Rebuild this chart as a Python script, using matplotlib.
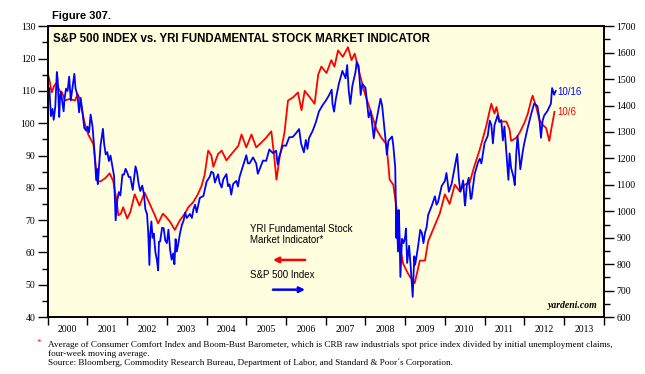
import numpy as np
import matplotlib
matplotlib.use("Agg")
import matplotlib.pyplot as plt

# YRI Fundamental Stock Market Indicator (left axis)
yri_t = [2000.00, 2000.04, 2000.10, 2000.16, 2000.22, 2000.30, 2000.36, 2000.43, 2000.55, 2000.69,
         2000.75, 2000.81, 2000.88, 2000.93, 2001.02, 2001.15, 2001.20, 2001.25, 2001.33, 2001.45,
         2001.56, 2001.65, 2001.72, 2001.78, 2001.84, 2001.90, 2002.00, 2002.08, 2002.19, 2002.31,
         2002.44, 2002.57, 2002.68, 2002.78, 2002.90, 2002.98, 2003.08, 2003.20, 2003.33, 2003.45,
         2003.54, 2003.66, 2003.78, 2003.87, 2003.95, 2004.04, 2004.12, 2004.17, 2004.29, 2004.38,
         2004.50, 2004.63, 2004.80, 2004.88, 2005.00, 2005.13, 2005.25, 2005.38, 2005.50, 2005.63,
         2005.70, 2005.76, 2005.84, 2005.96, 2006.05, 2006.18, 2006.30, 2006.39, 2006.47, 2006.60,
         2006.72, 2006.81, 2006.89, 2007.02, 2007.14, 2007.22, 2007.31, 2007.43, 2007.56, 2007.65,
         2007.73, 2007.85, 2007.99, 2008.11, 2008.20, 2008.28, 2008.40, 2008.53, 2008.61, 2008.70,
         2008.78, 2008.87, 2008.95, 2009.05, 2009.12, 2009.24, 2009.37, 2009.50, 2009.58, 2009.70,
         2009.87, 2010.00, 2010.12, 2010.25, 2010.37, 2010.50, 2010.62, 2010.75, 2010.87, 2010.95,
         2011.04, 2011.13, 2011.17, 2011.25, 2011.30, 2011.38, 2011.55, 2011.63, 2011.67, 2011.80,
         2011.88, 2012.00, 2012.09, 2012.17, 2012.21, 2012.30, 2012.38, 2012.46, 2012.55, 2012.63,
         2012.67, 2012.76]
yri_v = [115.5, 113.5, 109.5, 111.5, 112.5, 110.0, 109.5, 107.0, 107.5, 107.0,
         109.0, 107.5, 103.0, 100.0, 96.5, 93.5, 88.0, 82.0, 82.0, 83.0,
         84.5, 82.0, 77.0, 71.5, 72.0, 74.0, 70.5, 72.5, 78.0, 74.5,
         78.5, 75.0, 72.0, 69.0, 72.0, 71.0, 69.5, 67.0, 70.0, 72.0,
         74.0, 75.5, 78.0, 80.5, 84.0, 91.5, 90.0, 86.5, 90.5, 91.5,
         88.5, 90.5, 93.0, 96.5, 92.5, 96.5, 92.5, 94.0, 95.5, 97.5,
         90.0, 82.5, 89.5, 97.0, 107.0, 108.0, 109.5, 104.0, 110.0, 108.0,
         106.0, 115.0, 117.5, 115.5, 119.5, 117.5, 122.5, 120.5, 123.5, 119.5,
         121.5, 115.5, 109.0, 104.5, 101.0, 98.0, 95.5, 93.5, 82.5, 81.0,
         74.0, 62.0, 56.5, 54.0, 52.5, 50.5, 57.5, 57.5, 63.5, 67.0,
         72.0, 78.0, 75.0, 81.0, 79.0, 81.0, 81.5, 87.0, 91.5, 95.0,
         99.0, 104.0, 106.0, 103.0, 105.0, 100.5, 100.5, 98.0, 94.5, 95.5,
         97.0, 100.0, 103.0, 107.0, 108.5, 105.0, 101.0, 99.5, 98.5, 94.5,
         97.5, 103.5]

# S&P 500 index (right axis)
spx_t = [2000.00, 2000.04, 2000.08, 2000.12, 2000.15, 2000.19, 2000.23, 2000.25, 2000.29, 2000.31,
         2000.33, 2000.40, 2000.42, 2000.46, 2000.50, 2000.54, 2000.58, 2000.67, 2000.70, 2000.75,
         2000.79, 2000.83, 2000.88, 2000.92, 2000.97, 2001.00,
         2001.04, 2001.08, 2001.13, 2001.17, 2001.22, 2001.25, 2001.26, 2001.33, 2001.39, 2001.42,
         2001.46, 2001.50, 2001.54, 2001.58, 2001.67, 2001.71, 2001.75, 2001.79, 2001.83, 2001.88,
         2001.92, 2001.96, 2002.00,
         2002.04, 2002.08, 2002.14, 2002.21, 2002.25, 2002.29, 2002.33, 2002.38, 2002.42, 2002.46,
         2002.50, 2002.53, 2002.56, 2002.58, 2002.61, 2002.64, 2002.67, 2002.71, 2002.75, 2002.78,
         2002.80, 2002.83, 2002.88, 2002.92, 2002.96, 2003.00,
         2003.04, 2003.08, 2003.12, 2003.16, 2003.19, 2003.22, 2003.25, 2003.29, 2003.33, 2003.38,
         2003.42, 2003.46, 2003.50, 2003.58, 2003.63, 2003.67, 2003.71, 2003.75, 2003.83, 2003.92,
         2004.00,
         2004.08, 2004.12, 2004.17, 2004.21, 2004.25, 2004.29, 2004.33, 2004.38, 2004.42, 2004.50,
         2004.54, 2004.58, 2004.62, 2004.67, 2004.75, 2004.79, 2004.83, 2004.92, 2005.00,
         2005.04, 2005.08, 2005.17, 2005.25, 2005.29, 2005.33, 2005.42, 2005.50, 2005.58, 2005.67,
         2005.75, 2005.79, 2005.83, 2005.92, 2006.00,
         2006.08, 2006.17, 2006.25, 2006.33, 2006.38, 2006.45, 2006.50, 2006.54, 2006.58, 2006.67,
         2006.75, 2006.83, 2006.92, 2007.00,
         2007.08, 2007.15, 2007.17, 2007.21, 2007.25, 2007.33, 2007.42, 2007.50, 2007.54, 2007.58,
         2007.62, 2007.67, 2007.75, 2007.78, 2007.83, 2007.88, 2007.92, 2008.00,
         2008.04, 2008.08, 2008.13, 2008.17, 2008.21, 2008.25, 2008.33, 2008.38, 2008.42, 2008.50,
         2008.54, 2008.58, 2008.67, 2008.70, 2008.75, 2008.78, 2008.79, 2008.82, 2008.84, 2008.86,
         2008.88, 2008.92, 2008.96, 2009.00,
         2009.02, 2009.05, 2009.10, 2009.14, 2009.19, 2009.23, 2009.25, 2009.29, 2009.33, 2009.38,
         2009.42, 2009.46, 2009.50, 2009.54, 2009.58, 2009.67, 2009.75, 2009.79, 2009.83, 2009.92,
         2010.00,
         2010.04, 2010.10, 2010.17, 2010.25, 2010.31, 2010.35, 2010.39, 2010.42, 2010.46, 2010.50,
         2010.51, 2010.55, 2010.60, 2010.65, 2010.67, 2010.75, 2010.83, 2010.88, 2010.92, 2011.00,
         2011.08, 2011.13, 2011.17, 2011.21, 2011.25, 2011.33, 2011.37, 2011.42, 2011.46, 2011.50,
         2011.56, 2011.60, 2011.63, 2011.67, 2011.73, 2011.76, 2011.80, 2011.83, 2011.87, 2011.90,
         2011.96, 2012.00,
         2012.08, 2012.17, 2012.25, 2012.33, 2012.38, 2012.42, 2012.46, 2012.50, 2012.58, 2012.67,
         2012.70, 2012.75, 2012.79]
spx_v = [1469, 1465, 1360, 1387, 1346, 1395, 1527, 1499, 1357, 1434,
         1452, 1378, 1421, 1464, 1455, 1509, 1419, 1520, 1465, 1437,
         1374, 1429, 1368, 1315, 1305, 1320,
         1298, 1366, 1318, 1240, 1118, 1160, 1103, 1249, 1312, 1256,
         1215, 1224, 1190, 1211, 1134, 966, 1041, 1073, 1060, 1139,
         1139, 1161, 1148,
         1130, 1130, 1081, 1170, 1147, 1103, 1077, 1097, 1067, 1007,
         990, 920, 797, 912, 962, 900, 916, 847, 815, 777,
         885, 886, 938, 936, 890, 880,
         931, 856, 817, 841, 800, 895, 848, 880, 917, 950,
         964, 995, 975, 990, 975, 1008, 1025, 996, 1051, 1058,
         1112,
         1131, 1150, 1145, 1109, 1126, 1140, 1107, 1090, 1121, 1141,
         1095, 1102, 1063, 1104, 1115, 1094, 1130, 1174, 1212,
         1182, 1181, 1204, 1181, 1142, 1157, 1192, 1191, 1234, 1220,
         1229, 1177, 1207, 1249, 1248,
         1280, 1281, 1295, 1311, 1256, 1223, 1270, 1236, 1277, 1304,
         1336, 1378, 1401, 1418,
         1438, 1460, 1407, 1377, 1421, 1482, 1531, 1503, 1553, 1455,
         1406, 1474, 1527, 1565, 1549, 1440, 1481, 1468,
         1411, 1355, 1380, 1331, 1276, 1323, 1386, 1426, 1400, 1280,
         1214, 1267, 1283, 1251, 1166, 899, 1003, 848, 1005, 905,
         752, 896, 880, 903,
         935, 805, 870, 790, 677, 830, 798, 832, 873, 930,
         919, 880, 919, 940, 987, 1021, 1057, 1025, 1036, 1096,
         1115,
         1145, 1074, 1104, 1169, 1217, 1128, 1074, 1089, 1117, 1031,
         1022, 1095, 1127, 1047, 1049, 1141, 1183, 1199, 1181, 1258,
         1286, 1343, 1327, 1257, 1326, 1364, 1338, 1345, 1268, 1321,
         1199, 1119, 1219, 1163, 1129, 1099, 1224, 1285, 1216, 1159,
         1225, 1258,
         1312, 1366, 1408, 1398, 1350, 1278, 1342, 1362, 1379, 1407,
         1466, 1441, 1455]

years = list(range(2000, 2014))

fig = plt.figure(figsize=(6.45, 3.74), dpi=100)
ax = fig.add_axes([0.074, 0.152, 0.862, 0.778])
ax.set_facecolor('#FFFFE0')
ax2 = ax.twinx()

ax.plot(yri_t, yri_v, color='#FF0000', lw=1.3)
ax2.plot(spx_t, spx_v, color='#0000FF', lw=1.3)

ax.set_xlim(2000, 2014)
ax.set_ylim(40, 130)
ax2.set_ylim(600, 1700)

serif = 'Liberation Serif'
sans = 'Liberation Sans'

ax.set_yticks(np.arange(40, 131, 10))
ax.set_yticks(np.arange(45, 130, 10), minor=True)
ax2.set_yticks(np.arange(600, 1701, 100))
ax2.set_yticks(np.arange(650, 1700, 100), minor=True)
ax.set_xticks(years + [2014])
ax.set_xticks([y + 0.5 for y in years], minor=True)
ax.set_xticklabels([])
ax.set_xticklabels([str(y) for y in years], minor=True, fontfamily=serif, fontsize=7)
ax.tick_params(axis='x', which='major', length=6, width=1, direction='out')
ax.tick_params(axis='x', which='minor', length=0, pad=6)
ax.tick_params(axis='y', which='major', length=7, width=1, direction='out', labelsize=7, pad=2)
ax.tick_params(axis='y', which='minor', length=4, width=1, direction='out')
ax2.tick_params(axis='y', which='major', length=7, width=1, direction='out', labelsize=7, pad=2)
ax2.tick_params(axis='y', which='minor', length=4, width=1, direction='out')
for lab in ax.get_yticklabels() + ax2.get_yticklabels():
    lab.set_fontfamily(serif)
for a in (ax, ax2):
    for s in a.spines.values():
        s.set_linewidth(1.2)

ax.text(0.009, 0.975, 'S&P 500 INDEX vs. YRI FUNDAMENTAL STOCK MARKET INDICATOR',
        transform=ax.transAxes, fontsize=8.3, fontweight='bold', fontfamily=sans, va='top')
fig.text(0.08, 0.958, 'Figure 307.', fontsize=8, fontweight='bold', fontfamily=sans, va='center')

# end-of-series labels
ax.text(2012.82, 1452, '10/16', transform=ax2.transData, color='#0000FF',
        fontsize=7, fontfamily=sans, va='center')
ax.text(2012.82, 103.5, '10/6', color='#FF0000', fontsize=7, fontfamily=sans, va='center')

# legend block
ax.text(2005.1, 65.5, 'YRI Fundamental Stock\nMarket Indicator*', fontsize=7, fontfamily=sans,
        va='center', linespacing=1.1)
ax.annotate('', xy=(2005.6, 57.7), xytext=(2006.55, 57.7),
            arrowprops=dict(arrowstyle='-|>', color='#FF0000', lw=1.8, mutation_scale=8))
ax.text(2005.1, 52.9, 'S&P 500 Index', fontsize=7, fontfamily=sans, va='center')
ax.annotate('', xy=(2006.55, 48.5), xytext=(2005.6, 48.5),
            arrowprops=dict(arrowstyle='-|>', color='#0000FF', lw=1.8, mutation_scale=8))

ax.text(0.99, 0.025, 'yardeni.com', transform=ax.transAxes, ha='right', va='bottom',
        fontsize=7, fontfamily=serif, fontweight='bold', style='italic')

fig.text(0.057, 0.083, '*', color='#FF0000', fontsize=6.5, fontfamily=serif, va='center')
fig.text(0.075, 0.054,
         'Average of Consumer Comfort Index and Boom-Bust Barometer, which is CRB raw industrials spot price index divided by initial unemployment claims,\n'
         'four-week moving average.\n'
         'Source: Bloomberg, Commodity Research Bureau, Department of Labor, and Standard & Poor\u00b4s Corporation.',
         fontsize=6.6, fontfamily=serif, va='center', linespacing=1.15)

fig.savefig('out.png', dpi=100)
